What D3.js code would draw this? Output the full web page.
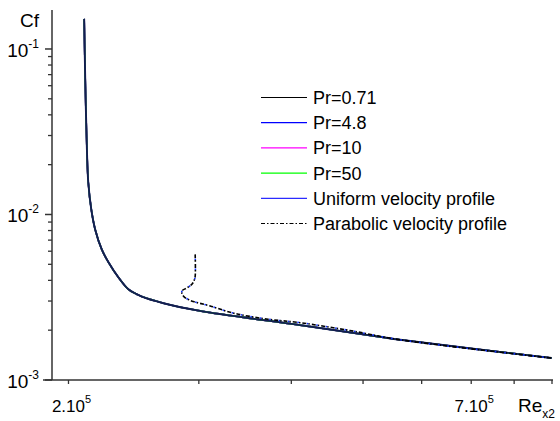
<!DOCTYPE html>
<html>
<head>
<meta charset="utf-8">
<script src="https://cdn.jsdelivr.net/npm/d3@7/dist/d3.min.js"></script>
<style>
  html, body { margin: 0; padding: 0; background: #fff; }
  svg text { font-family: Arial, "Liberation Sans", sans-serif; fill: #000; }
</style>
</head>
<body>
<svg id="chart" width="560" height="421"></svg>
<script>
// ---- data ----
const reUniform = [2.10e5, 2.107e5, 2.118e5, 2.127e5, 2.147e5, 2.173e5, 2.218e5, 2.265e5, 2.336e5, 2.41e5, 2.473e5, 2.512e5, 2.688e5, 3.01e5, 4.11e5, 5.27e5, 5.61e5, 8.99e5];
const cfUniform = [0.152, 0.065, 0.0246, 0.0156, 0.01072, 0.00812, 0.00615, 0.00514, 0.00417, 0.00353, 0.0033, 0.00319, 0.00291, 0.002615, 0.002145, 0.001823, 0.00175, 0.001357];

const reParabolic = [2.966e5, 2.966e5, 2.957e5, 2.936e5, 2.893e5, 2.848e5, 2.846e5, 2.866e5, 2.91e5, 2.957e5, 3.108e5, 3.341e5, 3.721e5, 4.11e5, 4.80e5, 5.61e5, 8.99e5];
const cfParabolic = [0.00574, 0.00423, 0.0040, 0.00379, 0.00361, 0.00346, 0.00334, 0.00318, 0.00305, 0.00297, 0.0028, 0.002535, 0.00233, 0.00222, 0.00199, 0.00175, 0.001357];

const legendLabels = ["Pr=0.71", "Pr=4.8", "Pr=10", "Pr=50", "Uniform velocity profile", "Parabolic velocity profile"];
const legendColors = ["#000000", "#0000ff", "#ff00ff", "#00ff00", "#2b2bff", "#000000"];

const xTickValues = [2e5, 3e5, 4e5, 5e5, 6e5, 7e5, 8e5, 9e5];
const xTickLabels = {200000: ["2.10", "5"], 700000: ["7.10", "5"]};
const yMajorTicks = [1e-3, 1e-2, 1e-1];
const yMajorLabels = ["-3", "-2", "-1"];

// ---- chart ----
const svg = d3.select("#chart");
const x = d3.scaleLog().domain([1.9e5, 9e5]).range([52, 552]);
const y = d3.scaleLog().domain([1e-3, 0.172]).range([380, 10]);

// minor y ticks
const yMinor = [];
[1e-3, 1e-2].forEach(d => { for (let k = 2; k <= 9; k++) yMinor.push(d * k); });

const axisColor = "#333";
// y axis
const yAxis = svg.append("g");
yAxis.append("line").attr("x1", 52).attr("x2", 52).attr("y1", y.range()[1]).attr("y2", y.range()[0])
  .attr("stroke", axisColor).attr("stroke-width", 1.5);
yAxis.selectAll(".ymaj").data(yMajorTicks).enter().append("line")
  .attr("x1", 45).attr("x2", 52).attr("y1", d => y(d)).attr("y2", d => y(d))
  .attr("stroke", axisColor).attr("stroke-width", 1.5);
yAxis.selectAll(".ymin").data(yMinor).enter().append("line")
  .attr("x1", 48).attr("x2", 52).attr("y1", d => y(d)).attr("y2", d => y(d))
  .attr("stroke", axisColor).attr("stroke-width", 1.3);
const yl = yAxis.selectAll(".ylab").data(yMajorTicks).enter().append("text")
  .attr("x", 39).attr("y", d => y(d) + 8).attr("text-anchor", "end").attr("font-size", 19);
yl.append("tspan").text("10");
yl.append("tspan").attr("font-size", 12).attr("dy", -9).text((d, i) => yMajorLabels[i]);

// x axis
const xAxis = svg.append("g");
xAxis.append("line").attr("x1", 43).attr("x2", 553).attr("y1", 380).attr("y2", 380)
  .attr("stroke", axisColor).attr("stroke-width", 1.5);
xAxis.selectAll(".xt").data(xTickValues).enter().append("line")
  .attr("x1", d => x(d)).attr("x2", d => x(d)).attr("y1", 380).attr("y2", 384)
  .attr("stroke", axisColor).attr("stroke-width", 1.3);
const xl = xAxis.selectAll(".xlab").data(xTickValues.filter(d => xTickLabels[d])).enter().append("text")
  .attr("x", d => x(d) + 3).attr("y", 412).attr("text-anchor", "middle").attr("font-size", 17);
xl.append("tspan").text(d => xTickLabels[d][0]);
xl.append("tspan").attr("font-size", 11).attr("dy", -9).text(d => xTickLabels[d][1]);

// axis titles
svg.append("text").attr("x", 39).attr("y", 27).attr("text-anchor", "end").attr("font-size", 19).text("Cf");
const rt = svg.append("text").attr("x", 518).attr("y", 412).attr("font-size", 19);
rt.append("tspan").text("Re");
rt.append("tspan").attr("font-size", 12).attr("dy", 6).text("x2");

// curves
const lineC = d3.line().x(d => x(d[0])).y(d => y(d[1])).curve(d3.curveCatmullRom.alpha(0.5));
const uniData = reUniform.map((r, i) => [r, cfUniform[i]]);
const parData = reParabolic.map((r, i) => [r, cfParabolic[i]]);

const plot = svg.append("g");
// Pr series (uniform profile, overlapping)
["#000000", "#0000ff", "#ff00ff", "#00ff00"].forEach(c => {
  plot.append("path").datum(uniData).attr("d", lineC).attr("fill", "none")
    .attr("stroke", c).attr("stroke-width", 1.6);
});
plot.append("path").datum(uniData).attr("d", lineC).attr("fill", "none")
  .attr("stroke", "#141c52").attr("stroke-width", 1.9);

// parabolic profile (dash-dot) with coloured overlaps
plot.append("path").datum(parData).attr("d", lineC).attr("fill", "none")
  .attr("stroke", "#000").attr("stroke-width", 1.6).attr("stroke-dasharray", "4,2,1.5,2");
plot.append("path").datum(parData).attr("d", lineC).attr("fill", "none")
  .attr("stroke", "#1030ff").attr("stroke-width", 1.6).attr("stroke-dasharray", "1.5,8").attr("stroke-dashoffset", -4.5);

// legend
const lg = svg.append("g");
const rowY = i => 97.5 + i * 25.2;
lg.selectAll(".lsw").data(legendLabels).enter().append("line")
  .attr("x1", 261).attr("x2", 307).attr("y1", (d, i) => rowY(i)).attr("y2", (d, i) => rowY(i))
  .attr("stroke", (d, i) => legendColors[i]).attr("stroke-width", 1.2)
  .attr("stroke-dasharray", (d, i) => i === 5 ? "4,2,1.5,2" : null);
lg.selectAll(".ltx").data(legendLabels).enter().append("text")
  .attr("x", 313).attr("y", (d, i) => rowY(i) + 6.5).attr("font-size", 18).text(d => d);
</script>
</body>
</html>
